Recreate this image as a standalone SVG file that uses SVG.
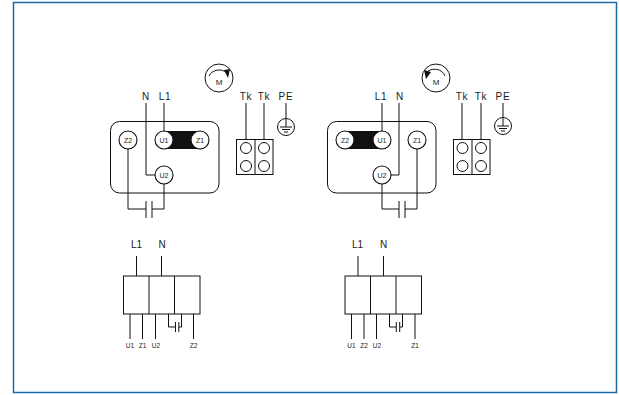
<svg xmlns="http://www.w3.org/2000/svg" width="619" height="395" viewBox="0 0 619 395">
<defs>
<style>
text{font-family:"Liberation Sans",Arial,sans-serif;fill:#222;text-anchor:middle}
.l{font-size:10px;letter-spacing:.8px}
.b{font-size:10px}
.t{font-size:7px}
.s{font-size:6.500px}
.m{font-size:8px}
.w{fill:none;stroke:#111;stroke-width:1}
.c{fill:#fff;stroke:#111;stroke-width:1}
.h{fill:#fff;stroke:#111;stroke-width:1.100}
.k{fill:#111}
</style>
</defs>
<rect width="619" height="395" fill="#fff"/>
<rect x="13.500" y="2.500" width="603" height="390" fill="#fff" stroke="#1a6aa8" stroke-width="1.500"/>
<g id="housing-left"><rect class="c" x="110.500" y="121.500" width="108.500" height="71.500" rx="9"/><rect class="k" x="164" y="131" width="36" height="18"/></g>
<g id="housing-right"><rect class="c" x="327.500" y="121.500" width="108.500" height="71.500" rx="9"/><rect class="k" x="345" y="131" width="37" height="18"/></g>
<g id="connectors">
<path class="w" d="M146 103V175H164M164 103V131M128 149V209H146M152 209H164V184M146 201V218M152 201V218"/>
<path class="w" d="M246 103V139M264 103V139M286 103V118"/>
<path class="w" d="M382 103V131M399 103V175H382M382 184V209H399M405 209H417V149M399 201V218M405 201V218"/>
<path class="w" d="M462 103V139M481 103V139M503 103V117"/>
<path class="w" d="M136.500 256V276M161.500 256V276M130 314V339M142.500 314V339M155.500 314V339M193.500 314V339M168.500 314V327H175M181.500 314V327H179M175.500 322V332M178.800 322V332"/>
<path class="w" d="M358 256V276M383.500 256V276M351.500 314V339M364 314V339M376.500 314V339M415 314V339M389.500 314V327H396M402.500 314V327H400M396.300 322V332M399.700 322V332"/>
</g>
<g id="motor-left"><circle class="c" cx="219" cy="78" r="14"/><path class="w" d="M209 76A11 10 0 0 1 227 73"/><path class="k" d="M224 70L230 69L228 78Z"/><text class="m" x="219" y="84.500">M</text></g>
<g id="z2-left"><circle class="h" cx="128" cy="140" r="9"/><text class="t" x="128" y="142.500">Z2</text></g>
<g id="u1-left"><circle class="h" cx="164" cy="140" r="9"/><text class="t" x="164" y="142.500">U1</text></g>
<g id="z1-left"><circle class="h" cx="200" cy="140" r="9"/><text class="t" x="200" y="142.500">Z1</text></g>
<g id="u2-left"><circle class="h" cx="164" cy="175" r="9"/><text class="t" x="164" y="177.500">U2</text></g>
<g id="terminal-left"><rect class="c" x="236.500" y="139.500" width="36.500" height="35"/><path class="w" d="M255 139.500V174.500"/><circle class="c" cx="246" cy="148" r="5.500"/><circle class="c" cx="246" cy="166" r="5.500"/><circle class="c" cx="264" cy="148" r="5.500"/><circle class="c" cx="264" cy="166" r="5.500"/></g>
<g id="pe-left"><circle class="c" cx="286" cy="127" r="8.500"/><path class="w" d="M286 119V127M280 127H292M282 129.500H290M284 132H288"/></g>
<g id="labels-left"><text class="l" x="146" y="100">N</text><text class="l" x="165" y="100">L1</text><text class="l" x="246" y="100">Tk</text><text class="l" x="264" y="100">Tk</text><text class="l" x="286" y="100">PE</text></g>
<g id="motor-right"><circle class="c" cx="436" cy="78" r="14"/><path class="w" d="M426 73A11 10 0 0 1 445 76"/><path class="k" d="M424 70L431 72L426 79Z"/><text class="m" x="436" y="84.500">M</text></g>
<g id="z2-right"><circle class="h" cx="345" cy="140" r="9"/><text class="t" x="345" y="142.500">Z2</text></g>
<g id="u1-right"><circle class="h" cx="382" cy="140" r="9"/><text class="t" x="382" y="142.500">U1</text></g>
<g id="z1-right"><circle class="h" cx="417" cy="140" r="9"/><text class="t" x="417" y="142.500">Z1</text></g>
<g id="u2-right"><circle class="h" cx="382" cy="175" r="9"/><text class="t" x="382" y="177.500">U2</text></g>
<g id="terminal-right"><rect class="c" x="453.500" y="139.500" width="36.500" height="35"/><path class="w" d="M472 139.500V174.500"/><circle class="c" cx="462.500" cy="148" r="5.500"/><circle class="c" cx="462.500" cy="166" r="5.500"/><circle class="c" cx="481" cy="148" r="5.500"/><circle class="c" cx="481" cy="166" r="5.500"/></g>
<g id="pe-right"><circle class="c" cx="503" cy="126" r="8.500"/><path class="w" d="M503 118V126M497 126H509M499 128.500H507M501 131H505"/></g>
<g id="labels-right"><text class="l" x="381" y="100">L1</text><text class="l" x="400" y="100">N</text><text class="l" x="462" y="100">Tk</text><text class="l" x="481" y="100">Tk</text><text class="l" x="503" y="100">PE</text></g>
<g id="block-left"><rect class="w" x="123.500" y="276" width="76.500" height="38"/><path class="w" d="M149 276V314M174.500 276V314"/><text class="b" x="136.500" y="248">L1</text><text class="b" x="162" y="248">N</text><text class="s" x="130" y="348">U1</text><text class="s" x="142.500" y="348">Z1</text><text class="s" x="156" y="348">U2</text><text class="s" x="193.500" y="348">Z2</text></g>
<g id="block-right"><rect class="w" x="345" y="276" width="76.500" height="38"/><path class="w" d="M370.500 276V314M396 276V314"/><text class="b" x="357.500" y="248">L1</text><text class="b" x="383.500" y="248">N</text><text class="s" x="351.500" y="348">U1</text><text class="s" x="364" y="348">Z2</text><text class="s" x="377" y="348">U2</text><text class="s" x="415" y="348">Z1</text></g>
</svg>
